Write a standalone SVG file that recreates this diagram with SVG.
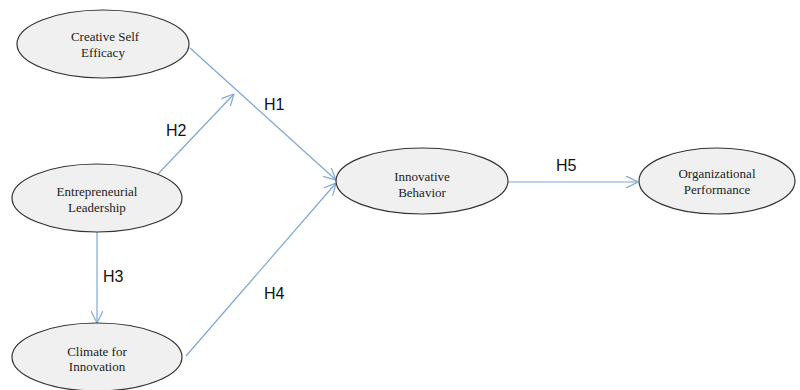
<svg xmlns="http://www.w3.org/2000/svg" width="800" height="390" viewBox="0 0 800 390">
<style>
.node ellipse{fill:#f0f0f0;stroke:#333;stroke-width:1.2}
.node text{font-family:"Liberation Serif",serif;font-size:13px;fill:#222;text-anchor:middle}
.conn line{stroke:#7ea8d8;stroke-width:1.2;fill:none}
.lbl{font-family:"Liberation Sans",Arial,sans-serif;font-size:16px;fill:#111}
</style>
<defs>
<marker id="arr" viewBox="0 0 12 12" refX="12" refY="6" markerWidth="12" markerHeight="12" markerUnits="userSpaceOnUse" orient="auto">
<path d="M0,0 L12,6 L0,12" fill="none" stroke="#7ea8d8" stroke-width="1.2"/>
</marker>
</defs>
<rect width="800" height="390" fill="#fff"/>
<g class="conn">
<line x1="190" y1="48" x2="336" y2="180" marker-end="url(#arr)"/>
<line x1="158" y1="174" x2="234" y2="94" marker-end="url(#arr)"/>
<line x1="97" y1="232" x2="97" y2="323" marker-end="url(#arr)"/>
<line x1="186" y1="356" x2="336" y2="183" marker-end="url(#arr)"/>
<line x1="508" y1="182" x2="638" y2="182" marker-end="url(#arr)"/>
</g>
<g id="labels">
<text class="lbl" x="264" y="110">H1</text>
<text class="lbl" x="166" y="136">H2</text>
<text class="lbl" x="103" y="282">H3</text>
<text class="lbl" x="264" y="299">H4</text>
<text class="lbl" x="556" y="171">H5</text>
</g>
<g id="n-cse" class="node">
<ellipse cx="103" cy="44" rx="86" ry="34"/>
<text x="105" y="41">Creative Self</text>
<text x="103" y="57">Efficacy</text>
</g>
<g id="n-el" class="node">
<ellipse cx="97" cy="198" rx="85" ry="34"/>
<text x="97" y="196">Entrepreneurial</text>
<text x="97" y="212">Leadership</text>
</g>
<g id="n-ci" class="node">
<ellipse cx="97" cy="357" rx="85" ry="34"/>
<text x="97" y="356">Climate for</text>
<text x="97" y="371">Innovation</text>
</g>
<g id="n-ib" class="node">
<ellipse cx="422" cy="181" rx="86" ry="33"/>
<text x="422" y="181">Innovative</text>
<text x="422" y="197">Behavior</text>
</g>
<g id="n-op" class="node">
<ellipse cx="717" cy="181" rx="78" ry="33"/>
<text x="717" y="178">Organizational</text>
<text x="717" y="194">Performance</text>
</g>
</svg>
